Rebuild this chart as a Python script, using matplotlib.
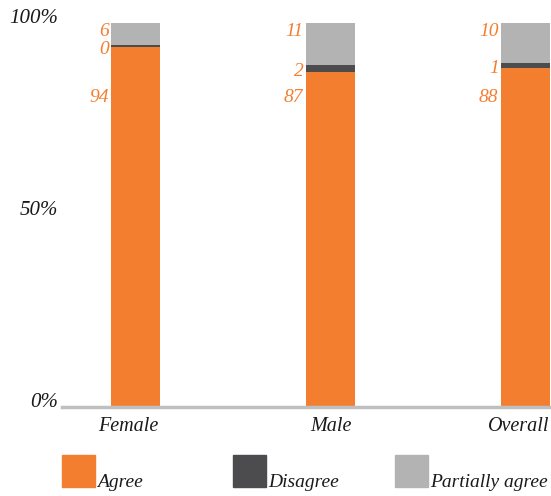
import matplotlib
matplotlib.use('Agg')
from matplotlib import pyplot as plt
from matplotlib.patches import Rectangle
import matplotlib.transforms as mtransforms
import numpy as np

# Survey responses, percent of each group
groups = ['Female', 'Male', 'Overall']
agree = [93.8, 87.2, 88.4]
disagree = [0.4, 1.9, 1.3]
partially = [5.8, 10.9, 10.3]
series_names = ['Agree', 'Disagree', 'Partially agree']
y_ticks = [0, 50, 100]
y_tick_labels = ['0%', '50%', '100%']

ORANGE = '#F47E30'
DARK = '#4C4C4E'
GREY = '#B3B3B3'
colors = [ORANGE, DARK, GREY]

plt.rcParams['font.family'] = ['Liberation Serif', 'DejaVu Serif']

W, H = 551, 496
fig = plt.figure(figsize=(W / 100, H / 100), dpi=100)
ax = fig.add_axes([62 / W, 89 / H, 489 / W, 384 / H])

x = np.arange(len(groups))
width = 0.256
bottom = np.zeros(len(groups))
for vals, c in zip([agree, disagree, partially], colors):
    ax.bar(x, vals, width, bottom=bottom, color=c, zorder=2)
    bottom += np.array(vals)

ax.set_xlim(-0.377, 2.131)
ax.set_ylim(0, 100)

# value labels sit just left of each bar
lbl = dict(ha='right', color=ORANGE, fontsize=14, style='italic', zorder=3)
for i in range(len(groups)):
    xl = x[i] - width / 2 - 0.01
    ax.text(xl, 80.5, f'{agree[i]:.0f}', va='center', **lbl)
    ax.text(xl, agree[i] + disagree[i] / 2 - 0.8, f'{disagree[i]:.0f}', va='center', **lbl)
    ax.text(xl, 100, f'{partially[i]:.0f}', va='top', **lbl)

for s in ['top', 'right', 'left']:
    ax.spines[s].set_visible(False)
ax.spines['bottom'].set_color('#BFBFBF')
ax.spines['bottom'].set_linewidth(2.5)
ax.spines['bottom'].set_zorder(4)

ax.set_yticks(y_ticks)
ax.set_yticklabels(y_tick_labels, fontsize=15, style='italic', color='#1A1A1A')
for t in ax.get_yticklabels():
    t.set_verticalalignment('baseline')
ax.tick_params(axis='y', length=0, pad=3)
ax.set_xticks(x)
ax.set_xticklabels(groups, fontsize=14.5, style='italic', color='#1A1A1A')
ax.tick_params(axis='x', length=0, pad=7)

# nudge the outer category labels so they stay inside the figure
xt = ax.get_xticklabels()
xt[0].set_transform(xt[0].get_transform() +
                    mtransforms.ScaledTranslation(-0.07, 0, fig.dpi_scale_trans))
xt[-1].set_horizontalalignment('right')
xt[-1].set_transform(xt[-1].get_transform() +
                     mtransforms.ScaledTranslation(0.245, 0, fig.dpi_scale_trans))

# legend drawn as plain squares with captions
leg_x = [62, 233, 395]
for name, c, lx in zip(series_names, colors, leg_x):
    fig.patches.append(Rectangle((lx / W, 9 / H), 33 / W, 32 / H,
                                 transform=fig.transFigure, color=c))
    fig.text((lx + 35) / W, 9 / H, name, fontsize=14, style='italic',
             color='#1A1A1A', va='baseline')

fig.savefig('out.png', dpi=100)
